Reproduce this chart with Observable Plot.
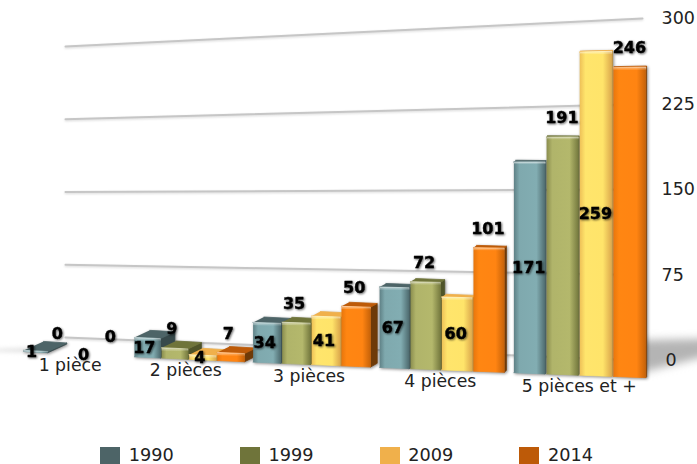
<!DOCTYPE html>
<html lang="fr">
<head>
<meta charset="utf-8">
<script src="https://cdn.jsdelivr.net/npm/d3@7"></script>
<script src="https://cdn.jsdelivr.net/npm/@observablehq/plot@0.6"></script>
<style>
  html, body { margin: 0; padding: 0; background: #fff; width: 697px; height: 464px; overflow: hidden; }
  #chart svg { display: block; background: transparent; }
  #legend { position: absolute; left: 100px; top: 447px; color: #222; line-height: 17px; }
  #legend > * { margin: 0 !important; }
  #legend * { padding-bottom: 0 !important; overflow: visible !important; }
</style>
</head>
<body>
<div id="chart"></div>
<div id="legend"></div>
<script>
// Logements par nombre de pièces, recensements 1990 à 2014
const categories = ["1 pièce", "2 pièces", "3 pièces", "4 pièces", "5 pièces et +"];
const years = ["1990", "1999", "2009", "2014"];
const values1990 = [1, 17, 34, 67, 171];
const values1999 = [0, 9, 35, 72, 191];
const values2009 = [0, 4, 41, 60, 259];
const values2014 = [0, 7, 50, 101, 246];
const valueTicks = [0, 75, 150, 225, 300];

const seriesValues = [values1990, values1999, values2009, values2014];
const legendColors = ["#4d6467", "#6f743a", "#f0b04b", "#bd5a08"];
const frontColors = [
  ["#5f8186", "#7fa9ae", "#82adb2", "#4e6b6f"],
  ["#8a8d4e", "#b0b46a", "#b4b86c", "#767a3f"],
  ["#eec057", "#ffe56c", "#ffe46a", "#dca84c"],
  ["#e8760c", "#ff8612", "#ff8412", "#c66208"]
];
const sideColors = ["#37494b", "#4f5429", "#b48a3c", "#6e3a08"];

const W = 697, H = 440;

// Oblique view: position along the row is u, value is v, depth runs 0 (front) to 1 (back).
const rowX = (u) => 23 + 107 * u + 3.9 * u * u;
const rowFloor = (u) => 351 + 5.3 * u;
const rowScale = (u) => 1.1 + 0.033 * u;
const depthX = (u) => Math.max(0.8, 20 * (1 - u / 4.4));
const depthY = (u) => Math.max(1, 9 * (1 - u / 5));
const frontY = (u, v) => rowFloor(u) - v * rowScale(u);

// Back wall runs between two fixed vertical rulers.
const wallLeft = { x: 65, y: (v) => 337 - 0.97 * v };
const wallRight = { x: 642, y: (v) => 360 - 1.14 * v };

const barStep = 0.235, barWidth = 0.225;

// One polygon per visible bar face, listed back to front so later bars cover earlier sides.
const faces = [];
const bars = [];
let polygon = 0;
const addFace = (points, fill) => {
  polygon++;
  for (const [x, y] of points) faces.push({ polygon, x, y, fill });
};
categories.forEach((category, g) => {
  years.forEach((year, s) => {
    const value = seriesValues[s][g];
    const a = g + s * barStep, b = a + barWidth;
    bars.push({ category, year, value, s, a, b });
    if (value === 0) return;
    const [xa, xb] = [rowX(a), rowX(b)];
    const [ya, yb] = [frontY(a, value), frontY(b, value)];
    const [fa, fb] = [rowFloor(a), rowFloor(b)];
    const [dxa, dxb, dya, dyb] = [depthX(a), depthX(b), depthY(a), depthY(b)];
    addFace([[xb, yb], [xb + dxb, yb - dyb], [xb + dxb, fb - dyb], [xb, fb]], sideColors[s]);
    addFace([[xa, ya], [xb, yb], [xb + dxb, yb - dyb], [xa + dxa, ya - dya]], legendColors[s]);
    addFace([[xa, ya], [xb, yb], [xb, fb], [xa, fa]], `url(#front${s})`);
    const rim = Math.min(2.5, fa - ya);
    addFace([[xa, ya], [xb, yb], [xb, yb + rim], [xa, ya + rim]], `url(#rim)`);
  });
});

const gridPoints = valueTicks.flatMap((v) => [
  { v, x: wallLeft.x, y: wallLeft.y(v) },
  { v, x: wallRight.x, y: wallRight.y(v) }
]);

// Values of 1990 and 2009 sit inside their bar, those of 1999 and 2014 float above it.
const barLabels = bars.map((d) => {
  const mid = (d.a + d.b) / 2;
  const inside = d.s % 2 === 0;
  return {
    text: String(d.value),
    x: rowX(mid) - 4 + 0.8 * mid,
    y: inside ? frontY(mid, d.value / 2) : frontY(mid, d.value) - 19
  };
});

const categoryLabels = categories.map((text, g) => ({
  text,
  x: rowX(g + 0.47) - 4.5 + g,
  y: rowFloor(g + 0.47) + 11.5
}));

const gradientDefs = () => {
  const svg = d3.create("svg:defs");
  frontColors.forEach((stops, s) => {
    const grad = svg.append("linearGradient").attr("id", `front${s}`);
    [0, 0.18, 0.72, 1].forEach((offset, i) =>
      grad.append("stop").attr("offset", offset).attr("stop-color", stops[i]));
  });
  const rim = svg.append("linearGradient").attr("id", "rim").attr("x2", 0).attr("y2", 1);
  rim.append("stop").attr("offset", 0).attr("stop-color", "#fff").attr("stop-opacity", 0.5);
  rim.append("stop").attr("offset", 1).attr("stop-color", "#fff").attr("stop-opacity", 0);
  return svg.node();
};

const font = '"DejaVu Sans", sans-serif';

const chart = Plot.plot({
  width: W,
  height: H,
  margin: 0,
  style: { background: "transparent", overflow: "visible" },
  x: { domain: [0, W], range: [0, W], axis: null },
  y: { domain: [H, 0], range: [H, 0], axis: null },
  marks: [
    gradientDefs,
    // floor shadow falling off past the last bar
    Plot.line(
      [
        { x: 625, y: 340 }, { x: 720, y: 338 }, { x: 720, y: 352 }, { x: 645, y: 371 }, { x: 625, y: 371 }
      ],
      { x: "x", y: "y", fill: "#b4b4b4", stroke: "none", imageFilter: "blur(4px)" }
    ),
    Plot.line(
      [{ x: -10, y: 349 }, { x: 30, y: 347 }, { x: 30, y: 352 }, { x: -10, y: 351 }],
      { x: "x", y: "y", fill: "#e2e2e2", stroke: "none", imageFilter: "blur(2px)" }
    ),
    Plot.line(gridPoints, {
      x: "x", y: "y", z: "v", stroke: "#c6c6c6", strokeWidth: 2,
      imageFilter: "drop-shadow(0 1px 1px rgba(0,0,0,.15))"
    }),
    Plot.text(valueTicks, {
      x: (v) => (v === 0 ? 665 : 661),
      y: (v) => wallRight.y(v),
      text: String,
      textAnchor: "start",
      fontFamily: font,
      fontSize: 17.5,
      fill: "#222"
    }),
    Plot.line(faces, {
      x: "x", y: "y", z: "polygon", fill: "fill", stroke: "fill", strokeWidth: 0.8, strokeLinejoin: "round",
      imageFilter: "drop-shadow(1px 1px 1.5px rgba(0,0,0,.45))"
    }),
    Plot.text(categoryLabels, {
      x: "x", y: "y", text: "text",
      fontFamily: font, fontSize: 17.3, fill: "#222"
    }),
    Plot.text(barLabels, {
      x: "x", y: "y", text: "text",
      fontFamily: font, fontSize: 16, fontWeight: "bold", fill: "#000",
      stroke: "#000", strokeWidth: 0.4,
      imageFilter: "drop-shadow(1px 1.5px 1.2px rgba(0,0,0,.6))"
    })
  ]
});
document.getElementById("chart").append(chart);

const legend = Plot.legend({
  color: { type: "ordinal", domain: years, range: legendColors },
  swatchWidth: 20,
  swatchHeight: 17,
  columns: 4,
  width: 541,
  style: { fontFamily: font, fontSize: "17.7px", color: "#222" }
});
document.getElementById("legend").append(legend);
</script>
</body>
</html>
